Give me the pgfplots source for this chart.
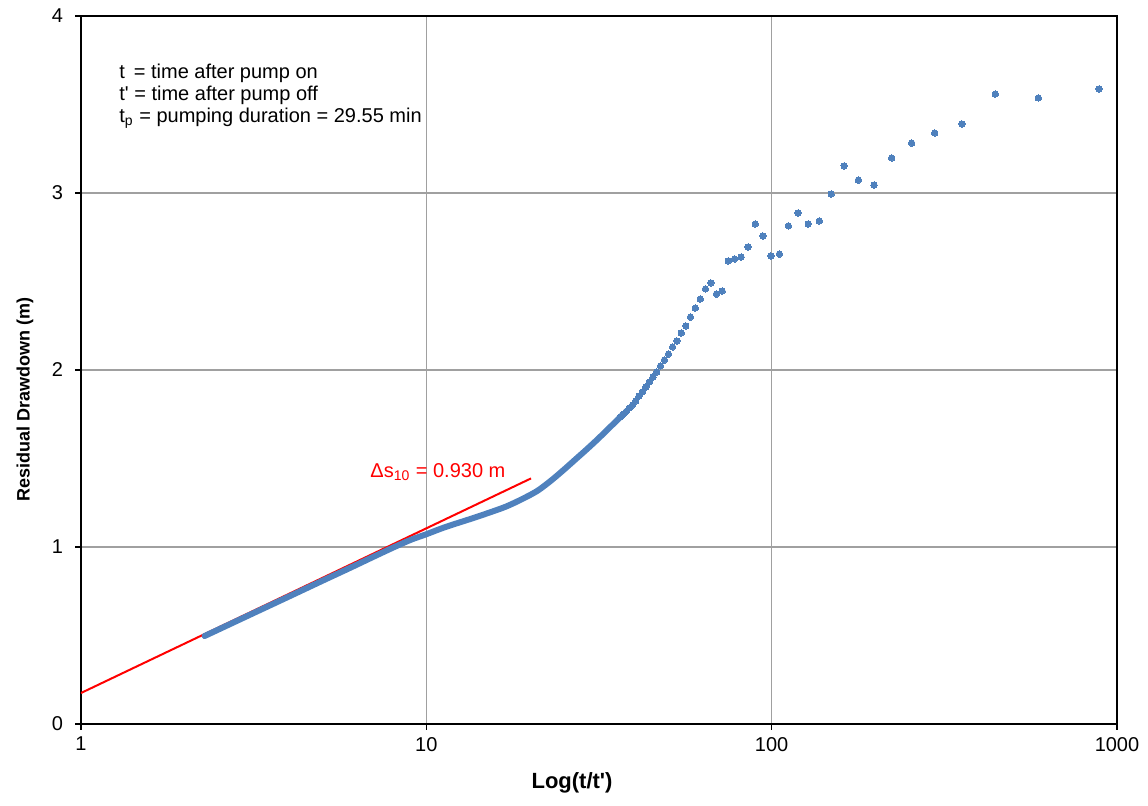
\documentclass[border=0pt]{standalone}
\usepackage{fontspec}
\setmainfont{Liberation Sans}
\usepackage{pgfplots}
\pgfplotsset{compat=1.18}
\definecolor{ptblue}{RGB}{79,129,189}
\definecolor{gridgray}{RGB}{160,160,160}
\begin{document}
\begin{tikzpicture}
\begin{axis}[
  at={(0,0)}, anchor=south west,
  width=518pt, height=354pt, scale only axis,
  xmode=log, xmin=1, xmax=1000, ymin=0, ymax=4,
  xtick={1,10,100,1000}, xticklabels={1,10,100,1000},
  ytick={0,1,2,3,4},
  xtick pos=bottom, ytick pos=left,
  xminorticks=false, yminorticks=false,
  grid=major, major grid style={gridgray, line width=0.75pt},
  axis line style={black, line width=1.1pt},
  tick align=outside, major tick length=3pt, tick style={black, line width=0.75pt},
  ticklabel style={font=\fontsize{10}{12}\selectfont},
  yticklabel style={xshift=-2.5pt},
  /pgf/number format/assume math mode=true,
  xlabel={\textbf{Log(t/t\textquotesingle)}}, ylabel={\textbf{Residual Drawdown (m)}},
  every axis x label/.style={at={(axis description cs:0.474,-0.0833)}, anchor=center, font=\fontsize{11}{13}\selectfont},
  every axis y label/.style={at={(axis description cs:-0.054,0.458)}, rotate=90, anchor=center, font=\fontsize{9}{11}\selectfont},
  clip=true,
]
% fitted straight line
\addplot[red, line width=1pt] coordinates {(1,0.175) (20.1,1.3875)};
% dense late-time part of the recovery record
\addplot[ptblue, line width=3pt, line cap=round, line join=round, smooth] coordinates {
(2.28,0.497) (3.0,0.606) (4.0,0.720) (5.0,0.809) (6.0,0.881) (7.0,0.943)
(8.0,0.996) (9.0,1.040) (10,1.072) (11,1.103) (12,1.128) (13.5,1.160)
(15,1.190) (17,1.228) (19,1.272) (21,1.318) (23,1.376) (25,1.436)
(27,1.494) (29,1.548) (31,1.600) (33,1.651) (35,1.700) (37.18,1.750)
};
% individual early-time readings
\addplot[only marks, mark=*, mark size=1.6pt, ptblue, mark options={fill=ptblue, draw=ptblue, line width=0pt}] coordinates {
(887.5,3.588) (591.9,3.537) (444.25,3.559) (355.6,3.390) (296.5,3.339)
(254.3,3.282) (222.6,3.198) (198.0,3.045) (178.3,3.073) (162.2,3.153)
(148.75,2.994) (137.4,2.842) (127.6,2.825) (119.2,2.887) (111.8,2.814)
(105.3,2.655) (99.5,2.644) (94.3,2.757) (89.65,2.825) (85.43,2.695)
(81.6,2.638) (78.09,2.627) (74.875,2.616) (71.92,2.446) (69.19,2.429)
(66.67,2.492) (64.32,2.458) (62.14,2.401) (60.1,2.350) (58.19,2.299)
(56.41,2.249) (54.73,2.209) (53.15,2.164) (51.66,2.130) (50.25,2.090)
(48.92,2.056) (47.66,2.023) (46.46,1.989) (45.33,1.960) (44.24,1.932)
(43.21,1.904) (42.23,1.876) (41.30,1.853) (40.40,1.825) (39.54,1.802)
(38.72,1.785) (37.94,1.766) (37.18,1.750) (36.46,1.734)
};
\node[red, anchor=base west, inner sep=0pt, font=\fontsize{10}{12}\selectfont] at (axis cs:6.87,1.39) {Δs\textsubscript{10} = 0.930 m};
\node[anchor=base west, inner sep=0pt, font=\fontsize{10}{12}\selectfont] at (axis description cs:0.0367,0.912) {t\ \,= time after pump on};
\node[anchor=base west, inner sep=0pt, font=\fontsize{10}{12}\selectfont] at (axis description cs:0.0367,0.881) {t\textquotesingle{} = time after pump off};
\node[anchor=base west, inner sep=0pt, font=\fontsize{10}{12}\selectfont] at (axis description cs:0.0367,0.849) {t\textsubscript{p} = pumping duration = 29.55 min};
\end{axis}
\pgfresetboundingbox
\useasboundingbox (-40.5pt,-41pt) rectangle (533.5pt,362pt);
\end{tikzpicture}
\end{document}
